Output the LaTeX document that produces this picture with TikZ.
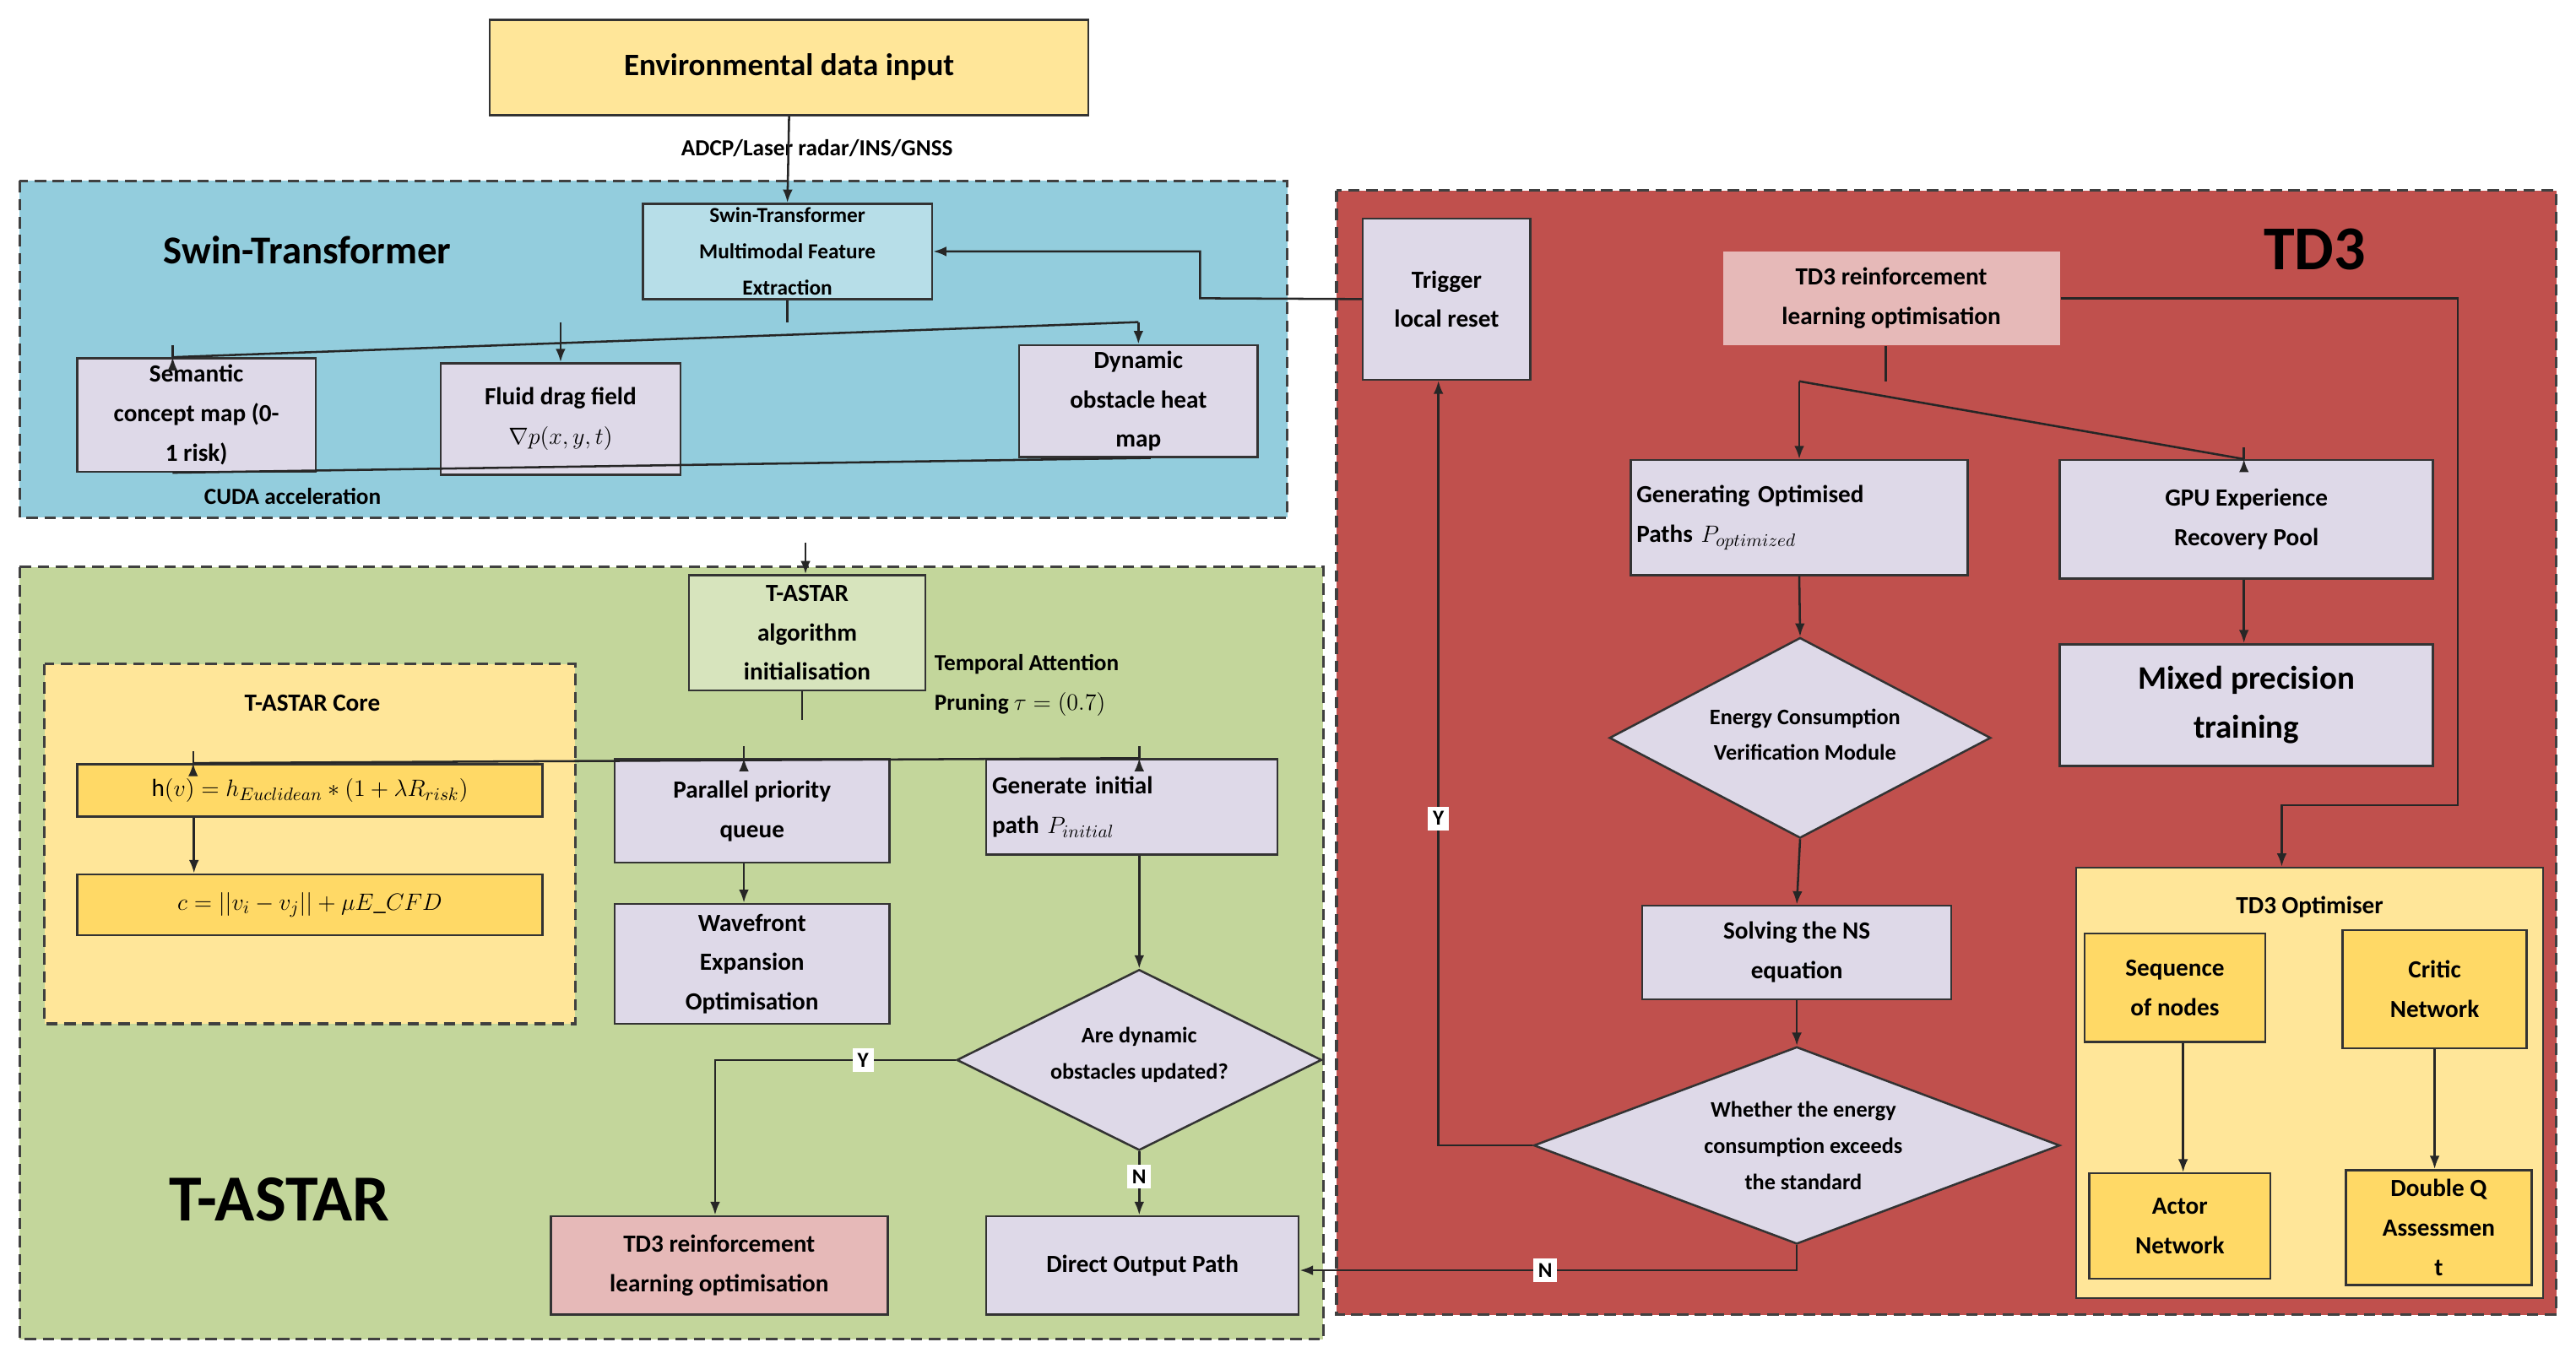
\documentclass[tikz,border=0pt]{standalone}
\usepackage{fontspec}
\setmainfont{Carlito}
\usetikzlibrary{arrows.meta,shapes.geometric,calc}
\definecolor{blueR}{HTML}{93CDDD}
\definecolor{greenR}{HTML}{C3D69B}
\definecolor{redR}{HTML}{C0504D}
\definecolor{yel}{HTML}{FFE699}
\definecolor{gold}{HTML}{FFD966}
\definecolor{lav}{HTML}{DED9E8}
\definecolor{swinB}{HTML}{B7DEE8}
\definecolor{astB}{HTML}{D7E4BD}
\definecolor{pinkB}{HTML}{E6B9B8}
\begin{document}
\begin{tikzpicture}[x=1pt,y=-1pt,
  region/.style={draw=black!75,dashed,line width=1.6pt,dash pattern=on 7pt off 4pt},
  box/.style={draw=black!80,line width=1.3pt,fill=lav,align=center,inner sep=2pt,
     font=\fontsize{15}{24}\selectfont\bfseries},
  dia/.style={diamond,draw=black!80,line width=1.3pt,fill=lav,inner sep=0pt},
  dtext/.style={align=center,font=\fontsize{13.5}{22}\selectfont\bfseries},
  ln/.style={draw=black!85,line width=1.3pt},
  arr/.style={ln,-{Latex[length=8pt,width=6pt]}},
  yn/.style={fill=white,inner sep=3pt,font=\fontsize{13}{15}\selectfont\bfseries},
  title/.style={font=\bfseries}]
\useasboundingbox (0,0) rectangle (1567,833);
\fill[white] (0,0) rectangle (1567,833);
% regions
\path[region,fill=blueR] (12,110) rectangle (783,315);
\path[region,fill=greenR] (12,345) rectangle (805,815);
\path[region,fill=redR] (813,116) rectangle (1555,800);
\path[region,fill=yel] (27,404) rectangle (350,623);
\node[title,font=\fontsize{24}{28}\selectfont\bfseries] (tSwin) at (187,152) {Swin-Transformer};
\node[title,font=\fontsize{40}{44}\selectfont\bfseries] (tAst) at (170,730) {T-ASTAR};
\node[title,font=\fontsize{38}{42}\selectfont\bfseries] (tTD3) at (1408,152) {TD3};
\node[font=\fontsize{15}{18}\selectfont\bfseries] (tCore) at (190,428) {T-ASTAR Core};
% top
\node[box,fill=yel,minimum width=364,minimum height=58,font=\fontsize{19}{22}\selectfont\bfseries] (env) at (480,41) {Environmental data input};
\node[font=\fontsize{14}{16}\selectfont\bfseries] (adcp) at (497,90) {ADCP/Laser radar/INS/GNSS};
\node[box,fill=swinB,minimum width=176,minimum height=58,font=\fontsize{13}{22}\selectfont\bfseries] (swin) at (479,153) {Swin-Transformer\\Multimodal Feature\\Extraction};
\node[box,minimum width=145,minimum height=69] (sem) at (119.5,252.5) {Semantic\\concept map (0-\\1 risk)};
\node[box,minimum width=146,minimum height=68] (fluid) at (341,255) {Fluid drag field\\$\nabla p(x,y,t)$};
\node[box,minimum width=145,minimum height=68] (dyn) at (692.5,244) {Dynamic\\obstacle heat\\map};
\node[font=\fontsize{14}{16}\selectfont\bfseries] (cuda) at (178,302) {CUDA acceleration};
% T-ASTAR
\node[box,fill=astB,minimum width=144,minimum height=70] (ast) at (491,385) {T-ASTAR\\algorithm\\initialisation};
\node[font=\fontsize{14}{24}\selectfont\bfseries,align=left,anchor=west] (temp) at (565,417) {Temporal Attention\\Pruning $\tau=(0.7)$};
\node[box,fill=gold,minimum width=283,minimum height=32,font=\fontsize{15}{18}\selectfont] (hb) at (188.5,481) {$\mathrm{h}(v)=h_{Euclidean}*(1+\lambda R_{risk})$};
\node[box,fill=gold,minimum width=283,minimum height=37,font=\fontsize{15}{18}\selectfont] (cb) at (188.5,550.5) {$c=\bigl|\bigl|v_i-v_j\bigr|\bigr|+\mu E\_CFD$};
\node[box,minimum width=167,minimum height=63] (par) at (457.5,493.5) {Parallel priority\\queue};
\node[box,minimum width=167,minimum height=73] (wave) at (457.5,586.5) {Wavefront\\Expansion\\Optimisation};
\node[box,minimum width=177,minimum height=58,align=left,text width=170] (gen) at (688.5,491) {Generate initial\\path $P_{initial}$};
\node[dia,minimum width=222,minimum height=110] (d1) at (693,645) {};
\node[dtext] (d1t) at (693,642) {Are dynamic\\obstacles updated?};
\node[box,fill=pinkB,minimum width=205,minimum height=60] (tdp) at (437.5,770) {TD3 reinforcement\\learning optimisation};
\node[box,minimum width=190,minimum height=60] (direct) at (695,770) {Direct Output Path};
% TD3
\node[box,minimum width=102,minimum height=98] (trig) at (880,182) {Trigger\\local reset};
\node[box,draw=none,fill=pinkB,minimum width=205,minimum height=57] (td3rl) at (1150.5,181.5) {TD3 reinforcement\\learning optimisation};
\node[box,minimum width=205,minimum height=70,align=left,text width=198] (genopt) at (1094.5,315) {Generating Optimised\\Paths $P_{optimized}$};
\node[box,minimum width=227,minimum height=72] (gpu) at (1366.5,316) {GPU Experience\\Recovery Pool};
\node[box,minimum width=227,minimum height=74,font=\fontsize{20}{30}\selectfont\bfseries] (mixed) at (1366.5,429) {Mixed precision\\training};
\node[dia,minimum width=232,minimum height=122] (d2) at (1095,449) {};
\node[dtext] (d2t) at (1098,447) {Energy Consumption\\Verification Module};
\node[box,minimum width=188,minimum height=57] (solve) at (1093,579.5) {Solving the NS\\equation};
\node[dia,minimum width=320,minimum height=120] (d3) at (1093,697) {};
\node[dtext] (d3t) at (1097,697) {Whether the energy\\consumption exceeds\\the standard};
\node[box,fill=yel,minimum width=284,minimum height=262] (opt) at (1405,659) {};
\node[font=\fontsize{15}{18}\selectfont\bfseries] (optt) at (1405,552) {TD3 Optimiser};
\node[box,fill=gold,minimum width=110,minimum height=66] (seq) at (1323,601) {Sequence\\of nodes};
\node[box,fill=gold,minimum width=112,minimum height=72] (crit) at (1481,602) {Critic\\Network};
\node[box,fill=gold,minimum width=110,minimum height=64] (actor) at (1326,746) {Actor\\Network};
\node[box,fill=gold,minimum width=113,minimum height=70] (dq) at (1483.5,747) {Double Q\\Assessmen\\t};
% connectors top
\draw[arr] (env.south) -- (swin.north);
\coordinate (b1) at (487,196);
\draw[ln] (swin.south) -- (swin.south|-b1);
\draw[arr] ($(sem.north)+(-14.5,0)$|-b1) -- ($(sem.north)+(-14.5,0)$);
\draw[arr] (fluid.north|-b1) -- (fluid.north);
\draw[ln] ($(sem.north)+(-14.5,0)$|-b1) -- (dyn.north|-b1);
\draw[arr] (dyn.north|-b1) -- (dyn.north);
\coordinate (m1) at (490,330);
\draw[ln] ($(sem.south)+(-14.5,0)$) -- ($(sem.south)+(-14.5,0)$|-m1) -- ($(dyn.south)+(7.5,0)$|-m1) -- ($(dyn.south)+(7.5,0)$);
\draw[ln] ($(fluid.south)+(6,0)$) -- ($(fluid.south)+(6,0)$|-m1);
\draw[arr] (m1) -- (m1|-ast.north);
% T-ASTAR connectors
\coordinate (b2) at (488,438);
\draw[ln] ($(ast.south)+(-3,0)$) -- (b2);
\draw[ln] ($(hb.north)+(-71,0)$|-b2) -- ($(gen.north)+(4.5,0)$|-b2);
\draw[arr] ($(hb.north)+(-71,0)$|-b2) -- ($(hb.north)+(-71,0)$);
\draw[arr] ($(par.north)+(-5,0)$|-b2) -- ($(par.north)+(-5,0)$);
\draw[arr] ($(gen.north)+(4.5,0)$|-b2) -- ($(gen.north)+(4.5,0)$);
\draw[arr] ($(hb.south)+(-70.5,0)$) -- ($(cb.north)+(-70.5,0)$);
\draw[arr] ($(par.south)+(-5,0)$) -- ($(wave.north)+(-5,0)$);
\draw[arr] ($(gen.south)+(4.5,0)$) -- (d1.north);
\coordinate (yl) at (435,645);
\draw[arr] (d1.west) -- (yl) -- (yl|-tdp.north);
\node[yn] (y1) at (525,645) {Y};
\draw[arr] (d1.south) -- (d1.south|-direct.north);
\node[yn] (n1) at (693,716) {N};
% TD3 connectors
\coordinate (b3) at (1147,232);
\draw[ln] (td3rl.south-|b3) -- (b3);
\draw[ln] (genopt.north|-b3) -- ($(gpu.north)+(-1.5,0)$|-b3);
\draw[arr] (genopt.north|-b3) -- (genopt.north);
\draw[arr] ($(gpu.north)+(-1.5,0)$|-b3) -- ($(gpu.north)+(-1.5,0)$);
\draw[arr] ($(gpu.south)+(-1.5,0)$) -- ($(mixed.north)+(-1.5,0)$);
\draw[arr] (genopt.south) -- (d2.north);
\draw[arr] (d2.south) -- (solve.north);
\draw[arr] (solve.south) -- (d3.north);
\coordinate (r1) at (1495,181.5);
\coordinate (r2) at (1388,490);
\draw[arr] (td3rl.east) -- (r1) -- (r1|-r2) -- (r2) -- (r2|-opt.north);
\coordinate (yx) at (875,697);
\draw[arr] (d3.west) -- (yx) -- (yx|-trig.south);
\node[yn] (y2) at (875,498) {Y};
\coordinate (nn) at (1093,773);
\draw[arr] (d3.south) -- (nn) -- (nn-|direct.east);
\node[yn] (n2) at (940,773) {N};
\coordinate (k1) at (730,181.5);
\draw[arr] (trig.west) -- (k1) -- (k1|-swin.east) -- (swin.east);
\draw[arr] ($(seq.south)+(5,0)$) -- ($(actor.north)+(2,0)$);
\draw[arr] (crit.south) -- (crit.south|-dq.north);
\end{tikzpicture}
\end{document}
